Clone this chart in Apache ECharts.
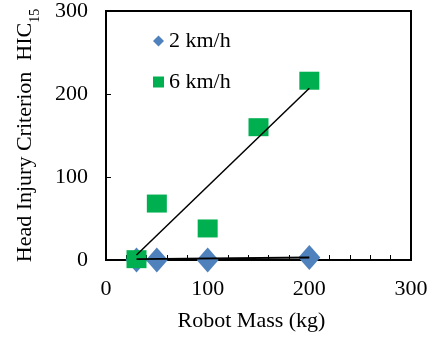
<!DOCTYPE html>
<html>
<head>
<meta charset="utf-8">
<script src="https://cdn.jsdelivr.net/npm/echarts@6/dist/echarts.min.js"></script>
<style>
  html, body { margin: 0; padding: 0; background: #fff; }
  #chart { width: 433px; height: 337px; }
</style>
</head>
<body>
<div id="chart"></div>
<script>
// robot mass (kg)
const mass2 = [30, 50, 100, 200];
const hic2 = [0, 0, 0, 3];
const mass6 = [30, 50, 100, 150, 200];
const hic6 = [1, 68, 38, 160, 216];
// trend line ends
const trend2 = [[30, 1], [200, 3]];
const trend6 = [[30, 6], [200, 207]];

const font = 'Liberation Serif, Times New Roman, serif';

const zip = (xs, ys) => xs.map((x, i) => [x, ys[i]]);

const chart = echarts.init(document.getElementById('chart'));

chart.setOption({
  animation: false,
  textStyle: { fontFamily: font },
  grid: {
    left: 106,
    right: 22,
    top: 10,
    bottom: 77,
    show: true,
    borderColor: '#000',
    borderWidth: 2
  },
  legend: {
    orient: 'vertical',
    left: 148,
    top: 25,
    itemWidth: 11,
    itemHeight: 11,
    itemGap: 19,
    textStyle: { fontFamily: font, fontSize: 22, color: '#000' },
    data: [
      { name: '2 km/h', icon: 'diamond' },
      { name: '6 km/h', icon: 'rect' }
    ]
  },
  xAxis: {
    type: 'value',
    min: 0,
    max: 300,
    interval: 100,
    name: 'Robot Mass (kg)',
    nameLocation: 'middle',
    nameGap: 50,
    nameTextStyle: { fontFamily: font, fontSize: 22, color: '#000', padding: [0, 14, 0, 0] },
    axisLine: { lineStyle: { color: '#000', width: 2 } },
    axisTick: { inside: true, length: 5, lineStyle: { color: '#000' } },
    minorTick: { show: true, splitNumber: 5, length: 5, lineStyle: { color: '#000' } },
    splitLine: { show: false },
    axisLabel: { fontFamily: font, fontSize: 22, color: '#000', margin: 18 }
  },
  yAxis: {
    type: 'value',
    min: 0,
    max: 300,
    interval: 100,
    name: '{n|Head Injury Criterion  HIC}{s|15}',
    nameLocation: 'middle',
    nameGap: 70,
    nameTextStyle: {
      color: '#000',
      rich: {
        n: { fontFamily: font, fontSize: 22, color: '#000' },
        s: { fontFamily: font, fontSize: 14, color: '#000', verticalAlign: 'bottom', padding: [0, 0, -6, 0] }
      }
    },
    axisLine: { lineStyle: { color: '#000', width: 2 } },
    axisTick: { inside: true, length: 5, lineStyle: { color: '#000' } },
    splitLine: { show: false },
    axisLabel: { fontFamily: font, fontSize: 22, color: '#000', margin: 18 }
  },
  series: [
    {
      name: '2 km/h',
      type: 'scatter',
      symbol: 'diamond',
      symbolSize: [22, 25],
      itemStyle: { color: '#4F81BD', opacity: 1 },
      data: zip(mass2, hic2),
      z: 2
    },
    {
      name: '6 km/h',
      type: 'scatter',
      symbol: 'rect',
      symbolSize: [20, 18],
      itemStyle: { color: '#00B050', opacity: 1 },
      data: zip(mass6, hic6),
      z: 3
    },
    {
      type: 'line',
      data: trend2,
      symbol: 'none',
      lineStyle: { color: '#000', width: 1.8 },
      z: 4
    },
    {
      type: 'line',
      data: trend6,
      symbol: 'none',
      lineStyle: { color: '#000', width: 1.5 },
      z: 4
    }
  ]
});
</script>
</body>
</html>
